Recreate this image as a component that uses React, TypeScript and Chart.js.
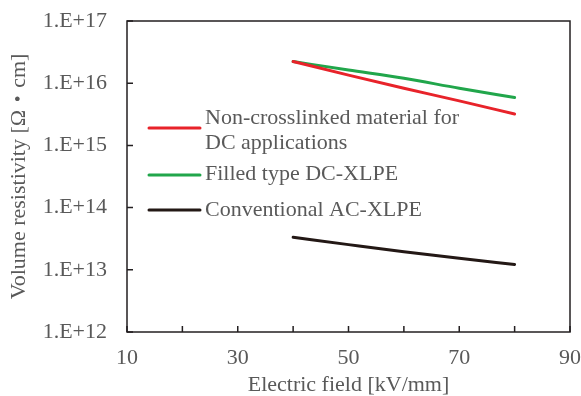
import { useEffect, useRef } from "react";
import { Chart, registerables } from "chart.js";

Chart.register(...registerables);

// ---- data ----
const fieldKV = [40, 50, 60, 70, 80];
const nonCrosslinkedDC = [2.23e16, 1.35e16, 8.3e15, 5.2e15, 3.2e15];
const filledTypeDC = [2.23e16, 1.63e16, 1.2e16, 8.3e15, 5.9e15];
const conventionalAC = [3.33e13, 2.54e13, 1.95e13, 1.53e13, 1.22e13];
const seriesLabels = [
  ["Non-crosslinked material for", "DC applications"],
  ["Filled type DC-XLPE"],
  ["Conventional AC-XLPE"],
];
const yTickValues = [1e12, 1e13, 1e14, 1e15, 1e16, 1e17];
const xLabelTicks = [10, 30, 50, 70, 90];
const xMinorTicks = [10, 20, 30, 40, 50, 60, 70, 80, 90];

const FONT = "'Liberation Serif', 'Times New Roman', 'Noto Sans CJK JP', serif";
const TEXT = "#595959";
const FRAME = "#231f20";
const colors = ["#e8232a", "#21a64b", "#231815"];

const framePlugin = {
  id: "frameTicks",
  afterDatasetsDraw(chart: any) {
    const { ctx, chartArea } = chart;
    const { left, right, top, bottom } = chartArea;
    const xs = chart.scales.x;
    const ys = chart.scales.y;
    ctx.save();
    ctx.strokeStyle = FRAME;
    ctx.lineWidth = 1.5;
    ctx.strokeRect(left, top, right - left, bottom - top);
    ctx.beginPath();
    for (const v of yTickValues) {
      const py = ys.getPixelForValue(v);
      ctx.moveTo(left, py);
      ctx.lineTo(left + 6, py);
    }
    for (const v of xMinorTicks) {
      const px = xs.getPixelForValue(v);
      ctx.moveTo(px, bottom);
      ctx.lineTo(px, bottom - 6);
    }
    ctx.stroke();
    ctx.restore();
  },
};

const legendPlugin = {
  id: "innerLegend",
  afterDatasetsDraw(chart: any) {
    const { ctx, chartArea } = chart;
    const rows = [
      { lineY: 107, textY: [97, 122] },
      { lineY: 154, textY: [153] },
      { lineY: 189, textY: [189] },
    ];
    ctx.save();
    chart.data.datasets.forEach((ds: any, i: number) => {
      const r = rows[i];
      const x0 = chartArea.left + 22;
      const x1 = chartArea.left + 73;
      const ly = chartArea.top + r.lineY;
      ctx.strokeStyle = ds.borderColor;
      ctx.lineWidth = 3;
      ctx.lineCap = "round";
      ctx.beginPath();
      ctx.moveTo(x0, ly);
      ctx.lineTo(x1, ly);
      ctx.stroke();
      ctx.fillStyle = TEXT;
      ctx.font = `22px ${FONT}`;
      ctx.textAlign = "left";
      ctx.textBaseline = "middle";
      seriesLabels[i].forEach((t, j) => {
        ctx.fillText(t, chartArea.left + 78, chartArea.top + r.textY[j]);
      });
    });
    ctx.restore();
  },
};

const zeroPad = (s: any) => {
  s.paddingTop = 0;
  s.paddingBottom = 0;
  s.paddingLeft = 0;
  s.paddingRight = 0;
};

export default function App() {
  const ref = useRef<HTMLCanvasElement | null>(null);

  useEffect(() => {
    if (!ref.current) return;
    const mk = (vals: number[]) => fieldKV.map((x, i) => ({ x, y: vals[i] }));
    const chart = new Chart(ref.current, {
      type: "line",
      data: {
        datasets: [
          { label: seriesLabels[0].join(" "), data: mk(nonCrosslinkedDC), borderColor: colors[0] },
          { label: seriesLabels[1].join(" "), data: mk(filledTypeDC), borderColor: colors[1] },
          { label: seriesLabels[2].join(" "), data: mk(conventionalAC), borderColor: colors[2] },
        ].map((d) => ({
          ...d,
          borderWidth: 3,
          pointRadius: 0,
          borderCapStyle: "round" as const,
          cubicInterpolationMode: "monotone" as const,
          fill: false,
        })),
      },
      options: {
        responsive: false,
        animation: false,
        layout: { padding: { top: 21, right: 11, left: 0, bottom: 0 } },
        plugins: { legend: { display: false }, tooltip: { enabled: false } },
        scales: {
          x: {
            type: "linear",
            min: 10,
            max: 90,
            afterBuildTicks: (s: any) => {
              s.ticks = xLabelTicks.map((v) => ({ value: v }));
            },
            afterFit: (s: any) => {
              s.height = 64;
              zeroPad(s);
            },
            grid: { display: false, drawTicks: false, tickLength: 0 },
            border: { display: false },
            ticks: {
              color: TEXT,
              padding: 13,
              maxRotation: 0,
              autoSkip: false,
              font: { family: FONT, size: 22 },
            },
            title: {
              display: true,
              text: "Electric field [kV/mm]",
              color: TEXT,
              font: { family: FONT, size: 22, lineHeight: 1 },
              padding: { top: 0, bottom: 0 },
            },
          },
          y: {
            type: "logarithmic",
            min: 1e12,
            max: 1e17,
            afterBuildTicks: (s: any) => {
              s.ticks = yTickValues.map((v) => ({ value: v }));
            },
            afterFit: (s: any) => {
              s.width = 127;
              zeroPad(s);
            },
            grid: { display: false, drawTicks: false, tickLength: 0 },
            border: { display: false },
            ticks: {
              color: TEXT,
              padding: 20,
              autoSkip: false,
              font: { family: FONT, size: 22 },
              callback: (v: any) => "1.E+" + Math.round(Math.log10(Number(v))),
            },
            title: {
              display: true,
              text: "Volume resistivity [Ω・cm]",
              color: TEXT,
              font: { family: FONT, size: 22, lineHeight: 1 },
              padding: { top: 8, bottom: 0 },
            },
          },
        },
      },
      plugins: [framePlugin, legendPlugin],
    });
    return () => chart.destroy();
  }, []);

  return (
    <div style={{ position: "absolute", left: 0, top: 0, width: 581, height: 396, background: "#fff" }}>
      <canvas ref={ref} width={581} height={396} />
    </div>
  );
}
